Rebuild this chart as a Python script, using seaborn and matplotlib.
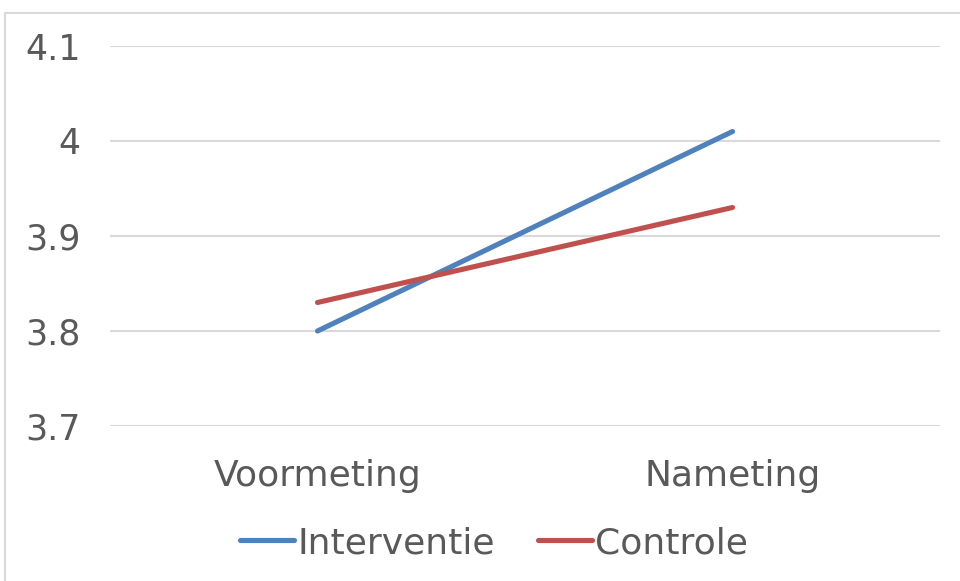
import matplotlib
matplotlib.use("Agg")
import matplotlib.pyplot as plt
import seaborn as sns
import pandas as pd
from matplotlib.patches import Rectangle

# Meetmomenten en gemiddelde scores per groep
momenten = ["Voormeting", "Nameting"]
interventie = [3.80, 4.01]
controle = [3.83, 3.93]
groepen = ["Interventie", "Controle"]
y_ticks = [3.7, 3.8, 3.9, 4.0, 4.1]
y_labels = ["3.7", "3.8", "3.9", "4", "4.1"]

df = pd.DataFrame({
    "Moment": momenten * 2,
    "Score": interventie + controle,
    "Groep": [groepen[0]] * 2 + [groepen[1]] * 2,
})

sns.set_theme(style="white")
plt.rcParams["font.family"] = ["DejaVu Sans"]
tekst = "#595959"

W, H = 960, 581
fig = plt.figure(figsize=(W / 100, H / 100), dpi=100)
ax = fig.add_axes([110 / W, 1 - 426 / H, 830 / W, 380 / H])

sns.lineplot(data=df, x="Moment", y="Score", hue="Groep",
             palette=["#4f81bd", "#c0504d"], linewidth=3.7,
             ax=ax, legend=False, sort=False)
for ln in ax.lines:
    ln.set_solid_capstyle("round")

ax.set_ylim(3.7, 4.1)
ax.set_xlim(-0.5, 1.5)
ax.set_yticks(y_ticks)
ax.set_yticklabels(y_labels)
ax.yaxis.grid(True, color="#d9d9d9", linewidth=1.5)
ax.set_axisbelow(True)
for s in ax.spines.values():
    s.set_visible(False)
ax.tick_params(axis="y", length=0, pad=21, labelsize=25, labelcolor=tekst)
ax.tick_params(axis="x", length=0, pad=24, labelsize=26, labelcolor=tekst)
ax.set_xlabel("")
ax.set_ylabel("")

# Legenda onderaan
handles = [plt.Line2D([], [], color=c, linewidth=3.7, solid_capstyle="round")
           for c in ["#4f81bd", "#c0504d"]]
fig.legend(handles, groepen, loc="center", bbox_to_anchor=(494 / W, 1 - 543 / H),
           ncol=2, frameon=False, fontsize=26, labelcolor=tekst,
           handlelength=1.5, handletextpad=0.08, columnspacing=1.2)

# Kader rond de grafiek
fig.patches.append(Rectangle((5 / W, -0.05), 1.2, 1 - 13 / H + 0.05,
                             transform=fig.transFigure, fill=False,
                             edgecolor="#d9d9d9", linewidth=1.5))

fig.savefig("out.png", dpi=100, facecolor="white")
